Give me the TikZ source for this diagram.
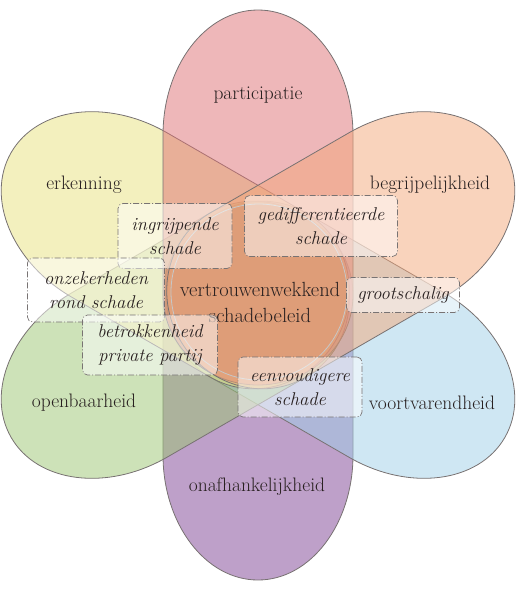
\documentclass[tikz,border=0pt]{standalone}
\usepackage{tikz}
\usetikzlibrary{positioning}
\definecolor{petPink}{RGB}{221,111,115}
\definecolor{petYellow}{RGB}{231,225,125}
\definecolor{petPeach}{RGB}{243,167,121}
\definecolor{petGreen}{RGB}{155,197,113}
\definecolor{petBlue}{RGB}{159,207,231}
\definecolor{petPurple}{RGB}{125,65,147}
\definecolor{petLine}{RGB}{120,114,114}
\definecolor{coreFill}{RGB}{215,140,110}
\definecolor{tagLine}{RGB}{120,115,115}
\definecolor{txt}{RGB}{40,32,32}

\begin{document}
\begin{tikzpicture}[x=1pt,y=-1pt,
  petal/.style={fill=#1,fill opacity=0.5,draw=petLine,line width=0.8pt},
  lbl/.style={font=\fontsize{19.5}{23}\selectfont,text=txt,inner sep=0pt},
  tag/.style={draw=tagLine,line width=0.7pt,dash pattern=on 6pt off 2pt on 1pt off 2pt,
    rounded corners=5pt,fill=white,fill opacity=0.5,text opacity=1,text=txt,
    font=\fontsize{18.5}{24}\selectfont\itshape,align=center,inner sep=0pt}]
\useasboundingbox (0,0) rectangle (522,600);
% petals, lowest first
\foreach \ang/\col in {270/petPurple,330/petBlue,210/petGreen,150/petYellow,90/petPink,30/petPeach}
  \draw[petal=\col,shift={(258,295)},rotate=\ang]
    (0pt,95pt) -- (160pt,95pt) arc[start angle=90,end angle=-90,x radius=125pt,y radius=95pt]
    -- (0pt,-95pt) arc[start angle=270,end angle=90,x radius=90pt,y radius=95pt] -- cycle;
% centre
\draw[draw=black!22,line width=0.8pt,fill=coreFill,fill opacity=0.2] (259,292) circle[radius=88pt];
\node[lbl,font=\fontsize{20.5}{26}\selectfont,align=center] (core) at (260,302) {vertrouwenwekkend\\schadebeleid};
% petal labels
\node[lbl] (part) at (258,95) {participatie};
\node[lbl] (erk) at (84,185) {erkenning};
\node[lbl] (begr) at (430,185) {begrijpelijkheid};
\node[lbl] (open) at (84,403) {openbaarheid};
\node[lbl] (voort) at (432,403) {voortvarendheid};
\node[lbl] (onaf) at (257,487) {onafhankelijkheid};
% tags
\node[tag,minimum width=114pt,minimum height=65pt] (ingr) at (175,236) {ingrijpende\\schade};
\node[tag,minimum width=153pt,minimum height=61pt] (gedif) at (321,226) {gedifferentieerde\\schade};
\node[tag,minimum width=137pt,minimum height=64pt] (onzek) at (96,290) {onzekerheden\\rond schade};
\node[tag,minimum width=135pt,minimum height=60pt] (betr) at (150,345) {betrokkenheid\\private partij};
\node[tag,minimum width=124pt,minimum height=60pt] (eenv) at (300,387) {eenvoudigere\\schade};
\node[tag,minimum width=113pt,minimum height=35pt] (groot) at (403,295) {grootschalig};
\end{tikzpicture}
\end{document}
